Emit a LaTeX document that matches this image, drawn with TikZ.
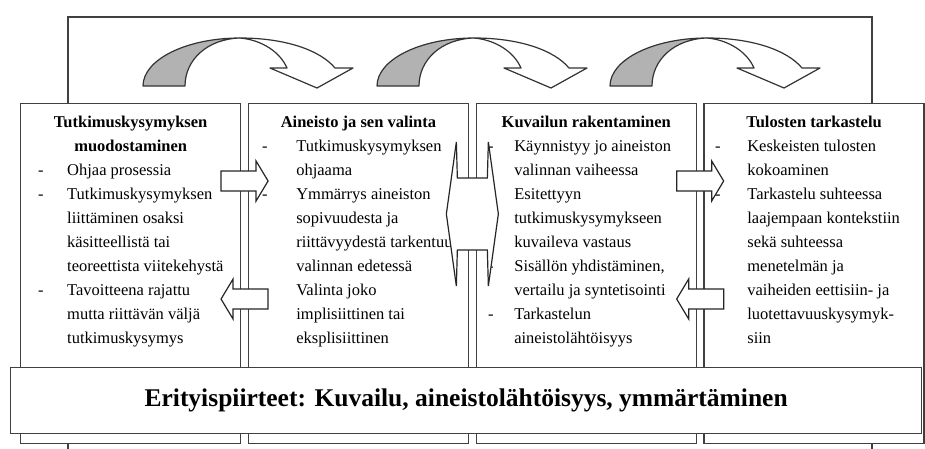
\documentclass[tikz,border=0pt]{standalone}
\usepackage{fontspec}
\setmainfont{Liberation Serif}
\usetikzlibrary{positioning, calc}

\newcommand{\bul}[1][29pt]{\makebox[#1][l]{-}}
\newcommand{\ind}[1][29pt]{\hspace*{#1}}

\begin{document}
\begin{tikzpicture}[
                x=1pt, y=-1pt,
                font=\fontsize{16.5}{24}\selectfont,
                node distance=6.5pt,
                frame/.style={draw=black!75, line width=1.2pt},
                colbox/.style={
                        draw=black!75, line width=1.3pt, fill=white,
                        minimum width=220pt, minimum height=340pt,
                        inner sep=0pt
                    },
                ttl/.style={font=\fontsize{16.5}{24}\selectfont\bfseries, align=center, inner sep=0pt, anchor=north},
                lst/.style={align=left, inner sep=0pt, anchor=north west},
                feat/.style={
                        draw=black!75, line width=1.3pt, fill=white,
                        minimum width=911pt, minimum height=66pt,
                        font=\fontsize{25.5}{30}\selectfont\bfseries
                    },
                blk/.style={draw=black!85, line width=1.2pt, fill=white},
                crv/.style={draw=black!80, line width=1.2pt, line join=round},
                rblock/.pic={
                        \path[blk] (-23.5,-10) -- (11.5,-10) -- (11.5,-20) -- (23.5,0)
                            -- (11.5,20) -- (11.5,10) -- (-23.5,10) -- cycle;
                    },
                dblock/.pic={
                        \path[blk] (-26,0) -- (-16,-72) -- (-15,-36) -- (15,-36) -- (16,-72) -- (26,0)
                            -- (16,72) -- (15,36) -- (-15,36) -- (-16,72) -- cycle;
                    },
                curv/.pic={
                        \path[crv, fill=black!30] (-97,48) .. controls (-97,21.5) and (-53.5,0) .. (0,0)
                            .. controls (-33,1) and (-55,22) .. (-55,48) -- cycle;
                        \path[crv, fill=white] (0,0) .. controls (45,0) and (80,12) .. (95,30)
                            -- (113,30) -- (77,50) -- (30,30) -- (47,30)
                            .. controls (40,14) and (22,2) .. (0,0) -- cycle;
                    },
                ]

                \useasboundingbox (0,0) rectangle (925,448);
                \clip (0,0) rectangle (925,448);

                % outer frame behind the columns
                \draw[frame] (68,17) rectangle (872,470);

                \node[colbox, anchor=north west] (b1) at (20,103) {};
                \node[colbox, right=of b1] (b2) {};
                \node[colbox, right=of b2] (b3) {};
                \node[colbox, right=of b3] (b4) {};

                \node[ttl] (h1) at (b1.center |- 0,110.2) {\strut Tutkimuskysymyksen\\muodostaminen};
                \node[ttl] (h2) at (b2.center |- 0,110.2) {\strut Aineisto ja sen valinta};
                \node[ttl] (h3) at (b3.center |- 0,110.2) {\strut Kuvailun rakentaminen};
                \node[ttl] (h4) at (b4.center |- 0,110.2) {\strut Tulosten tarkastelu};

                \node[lst] (l1) at (38,158.2) {\strut\bul Ohjaa prosessia\\
                    \bul Tutkimuskysymyksen\\ \ind liittäminen osaksi\\ \ind käsitteellistä tai\\
                    \ind teoreettista viitekehystä\\ \bul Tavoitteena rajattu\\
                    \ind mutta riittävän väljä\\ \ind tutkimuskysymys};
                \node[lst] (l2) at (262,134.2) {\strut\bul[30pt] Tutkimuskysymyksen\\ \ind[30pt] ohjaama\\
                    \bul[30pt] Ymmärrys aineiston\\ \ind[30pt] sopivuudesta ja\\
                    \ind[30pt] riittävyydestä tarkentuu\\ \ind[30pt] valinnan edetessä\\
                    \bul[30pt] Valinta joko\\ \ind[30pt] implisiittinen tai\\ \ind[30pt] eksplisiittinen};
                \node[lst] (l3) at (488,134.2) {\strut\bul[22pt] Käynnistyy jo aineiston\\ \ind[22pt] valinnan vaiheessa\\
                    \bul[22pt] Esitettyyn\\ \ind[22pt] tutkimuskysymykseen\\ \ind[22pt] kuvaileva vastaus\\
                    \bul[22pt] Sisällön yhdistäminen,\\ \ind[22pt] vertailu ja syntetisointi\\
                    \bul[22pt] Tarkastelun\\ \ind[22pt] aineistolähtöisyys};
                \node[lst] (l4) at (715,134.2) {\strut\bul[28pt] Keskeisten tulosten\\ \ind[28pt] kokoaminen\\
                    \bul[28pt] Tarkastelu suhteessa\\ \ind[28pt] laajempaan kontekstiin\\
                    \ind[28pt] sekä suhteessa\\ \ind[28pt] menetelmän ja\\
                    \ind[28pt] vaiheiden eettisiin- ja\\ \ind[28pt] luotettavuuskysymyk-\\ \ind[28pt] siin};

                \node[feat, anchor=north west] (feat) at (10,367) {Erityispiirteet: Kuvailu, aineistolähtöisyys, ymmärtäminen};

                % gaps between the columns
                \coordinate (g12) at ($(b1.north east)!0.5!(b2.north west)$);
                \coordinate (g23) at ($(b2.north east)!0.5!(b3.north west)$);
                \coordinate (g34) at ($(b3.north east)!0.5!(b4.north west)$);

                \pic at ($(g12)+(0,78)$) {rblock};
                \pic[xscale=-1] at ($(g12)+(0,196)$) {rblock};
                \pic at ($(g23)+(0,111)$) {dblock};
                \pic at ($(g34)+(0,78)$) {rblock};
                \pic[xscale=-1] at ($(g34)+(0,196)$) {rblock};

                \pic at (240,38) {curv};
                \pic at (474,38) {curv};
                \pic at (707,38) {curv};
            \end{tikzpicture}
\end{document}
